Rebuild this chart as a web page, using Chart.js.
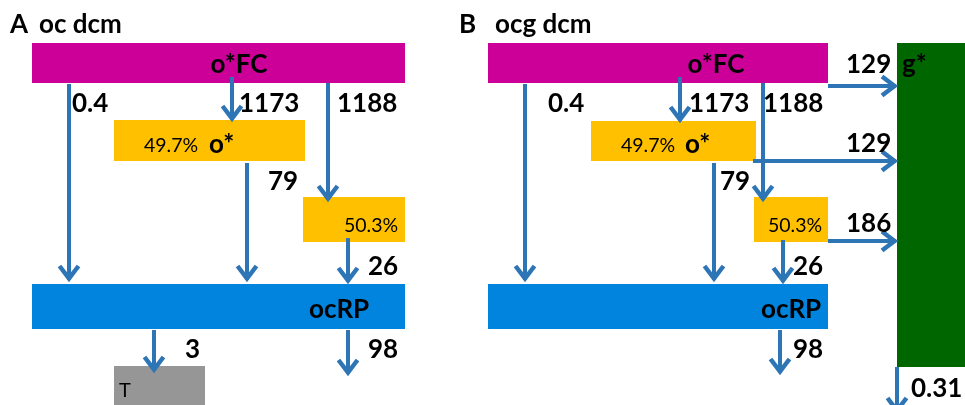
<!DOCTYPE html>
<html>
<head>
<meta charset="utf-8">
<script src="https://cdn.jsdelivr.net/npm/chart.js@4.4.0/dist/chart.umd.min.js"></script>
<style>
  html, body { margin: 0; padding: 0; background: #fff; }
</style>
</head>
<body>
<canvas id="flow" width="965" height="405"></canvas>
<script>
// values
const panelLetters = ['A', 'B'];
const panelTitles = ['oc dcm', 'ocg dcm'];
const nodeNames = ['o*FC', 'o*', 'ocRP', 'T', 'g*'];
const shares = ['49.7%', '50.3%'];
const flowsA = [0.4, 1173, 1188, 79, 26, 3, 98];
const flowsB = [0.4, 1173, 1188, 79, 26, 98, 129, 129, 186, 0.31];

// layout, in diagram units (x 0..965, y 0..405 from the top)
const arrowsA = [[69,84,69,280],[232,77,232,120],[328,83,328,200],[247,163,247,280],
                 [348,238,348,282],[154,330,154,371],[348,330,348,374]];
const flowPosA = [[72,112],[239,112],[337,112],[268,190],[368,275],[185,358],[368,358]];
const arrowsB = [[525,84,525,280],[680,77,680,121],[763,83,763,200],[714,163,714,280],
                 [783,240,783,282],[780,330,780,373],[828,86,896,86],[753,161,896,161],
                 [828,241,896,241],[897,367,897,412]];
const flowPosB = [[548,112],[689,112],[763,112],[720,190],[793,275],[793,358],
                  [846,73],[846,152],[846,232],[911,397]];

const MAGENTA = '#CC0099', ORANGE = '#FFC000', BLUE = '#0084DD', GREEN = '#006600', GREY = '#969696';
const ARROW = '#2E75B6';

// boxes: x0, y0, x1, y1, colour
const boxes = [
    [32,43,405,83,MAGENTA],[114,120,305,161,ORANGE],[303,197,405,242,ORANGE],
    [32,284,405,329,BLUE],[114,366,205,410,GREY],
    [488,43,828,83,MAGENTA],[591,121,756,161,ORANGE],[754,197,828,242,ORANGE],
    [488,284,828,329,BLUE],[897,43,970,367,GREEN]
];

const BOLD = 'bold 26px Lato';
const SMALL = '19.5px Lato';

// every text item: text, x, y(baseline), font, align
const texts = [
    [panelLetters[0], 10, 33, BOLD, 'left'], [panelTitles[0], 39, 33, BOLD, 'left'],
    [panelLetters[1], 459, 33, BOLD, 'left'], [panelTitles[1], 495, 33, BOLD, 'left'],
    [nodeNames[0], 239, 73, BOLD, 'center'], [nodeNames[0], 716, 73, BOLD, 'center'],
    [shares[0], 144, 152, SMALL, 'left'], [nodeNames[1], 209, 153, BOLD, 'left'],
    [shares[0], 621, 152, SMALL, 'left'], [nodeNames[1], 685, 153, BOLD, 'left'],
    [shares[1], 344, 232, SMALL, 'left'], [shares[1], 768, 232, SMALL, 'left'],
    [nodeNames[2], 309, 318, BOLD, 'left'], [nodeNames[2], 761, 318, BOLD, 'left'],
    [nodeNames[3], 119, 397, '20px Lato', 'left'],
    [nodeNames[4], 902, 73, BOLD, 'left']
];
flowsA.forEach((v, i) => texts.push([String(v), flowPosA[i][0], flowPosA[i][1], BOLD, 'left']));
flowsB.forEach((v, i) => texts.push([String(v), flowPosB[i][0], flowPosB[i][1], BOLD, 'left']));

const datasets = arrowsA.concat(arrowsB).map(a => ({
    data: [{x: a[0], y: a[1]}, {x: a[2], y: a[3]}],
    showLine: true,
    borderColor: ARROW,
    borderWidth: 4,
    pointRadius: 0,
    fill: false
}));

const diagram = {
    id: 'diagram',
    beforeDatasetsDraw(chart) {
        const ctx = chart.ctx, sx = chart.scales.x, sy = chart.scales.y;
        ctx.save();
        boxes.forEach(b => {
            const x0 = sx.getPixelForValue(b[0]), x1 = sx.getPixelForValue(b[2]);
            const y0 = sy.getPixelForValue(b[1]), y1 = sy.getPixelForValue(b[3]);
            ctx.fillStyle = b[4];
            ctx.fillRect(x0, y0, x1 - x0, y1 - y0);
        });
        ctx.restore();
    },
    afterDatasetsDraw(chart) {
        const ctx = chart.ctx, sx = chart.scales.x, sy = chart.scales.y;
        ctx.save();
        // arrow heads
        chart.data.datasets.forEach((ds, i) => {
            const pts = chart.getDatasetMeta(i).data;
            const p0 = pts[0], p1 = pts[1];
            const dx = p1.x - p0.x, dy = p1.y - p0.y;
            const len = Math.hypot(dx, dy);
            const ux = dx / len, uy = dy / len;
            const back = 14, side = 9.5;
            ctx.strokeStyle = ARROW;
            ctx.lineWidth = 4.5;
            ctx.lineJoin = 'miter';
            ctx.beginPath();
            ctx.moveTo(p1.x - ux * back - uy * side, p1.y - uy * back + ux * side);
            ctx.lineTo(p1.x - ux * 1.5, p1.y - uy * 1.5);
            ctx.lineTo(p1.x - ux * back + uy * side, p1.y - uy * back - ux * side);
            ctx.stroke();
        });
        // labels
        ctx.fillStyle = '#000';
        ctx.textBaseline = 'alphabetic';
        texts.forEach(t => {
            ctx.font = t[3];
            ctx.textAlign = t[4];
            ctx.fillText(t[0], sx.getPixelForValue(t[1]), sy.getPixelForValue(t[2]));
        });
        ctx.restore();
    }
};

function draw() {
    new Chart(document.getElementById('flow'), {
        type: 'scatter',
        data: { datasets: datasets },
        options: {
            responsive: false,
            animation: false,
            events: [],
            layout: { padding: 0 },
            plugins: { legend: { display: false }, tooltip: { enabled: false } },
            scales: {
                x: { type: 'linear', min: 0, max: 965, display: false },
                y: { type: 'linear', min: 0, max: 405, reverse: true, display: false }
            }
        },
        plugins: [diagram]
    });
}

Promise.all([document.fonts.load(BOLD), document.fonts.load(SMALL)]).then(draw, draw);
</script>
</body>
</html>
